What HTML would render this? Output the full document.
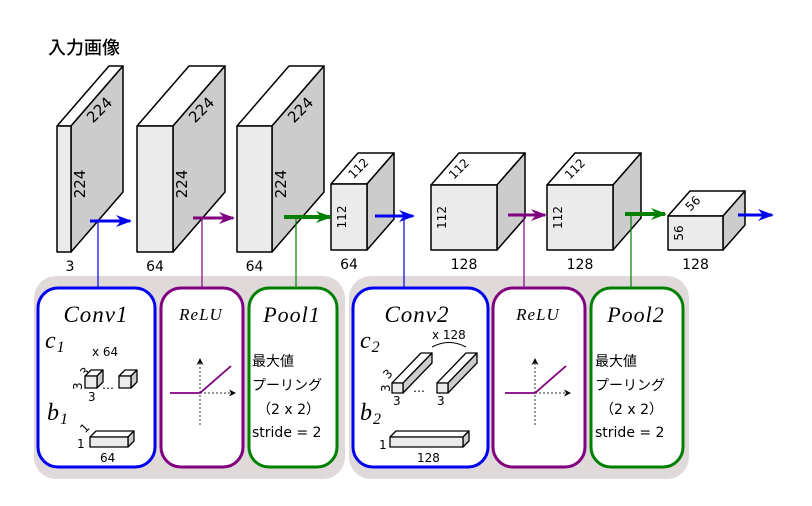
<!DOCTYPE html>
<html><head><meta charset="utf-8"><style>
html,body{margin:0;padding:0;background:#fff;}
svg{display:block;font-family:"DejaVu Sans","Liberation Sans","Noto Sans CJK JP",sans-serif;}
.it{font-family:"Liberation Serif","DejaVu Serif",serif;font-style:italic;letter-spacing:1px;}
</style></head><body>
<svg id="s" width="812" height="506" viewBox="0 0 812 506" xmlns="http://www.w3.org/2000/svg">
<defs>
<marker id="ab" markerWidth="16" markerHeight="12" refX="14" refY="6" orient="auto" markerUnits="userSpaceOnUse"><path d="M0,0 L16,6 L0,12 L5,6z" fill="#0000ee"/></marker>
<marker id="ap" markerWidth="16" markerHeight="12" refX="14" refY="6" orient="auto" markerUnits="userSpaceOnUse"><path d="M0,0 L16,6 L0,12 L5,6z" fill="#800080"/></marker>
<marker id="ag" markerWidth="16" markerHeight="12" refX="14" refY="6" orient="auto" markerUnits="userSpaceOnUse"><path d="M0,0 L16,6 L0,12 L5,6z" fill="#008000"/></marker>
<marker id="ak" markerWidth="7" markerHeight="7" refX="6" refY="3.5" orient="auto" markerUnits="userSpaceOnUse"><path d="M0,0 L7,3.5 L0,7 L2,3.5z" fill="#000"/></marker>
</defs>
<text x="48" y="54" font-size="18" font-family="Noto Sans CJK JP, sans-serif" font-weight="500">入力画像</text>
<g id="panels">
<rect x="34" y="276" width="311" height="203" rx="22" fill="#e0d9d9"/>
<rect x="349" y="276" width="340" height="203" rx="22" fill="#e0d9d9"/>
</g>
<g id="cubes"></g>
<g id="links"></g>
<g fill="#fff" stroke-width="3">
<rect x="38" y="288" width="117" height="179" rx="20" stroke="#0000ee"/>
<rect x="161" y="288" width="82" height="179" rx="20" stroke="#800080"/>
<rect x="249" y="288" width="88" height="179" rx="20" stroke="#008000"/>
<rect x="353" y="288" width="135" height="179" rx="20" stroke="#0000ee"/>
<rect x="493" y="288" width="92" height="179" rx="20" stroke="#800080"/>
<rect x="591" y="288" width="92" height="179" rx="20" stroke="#008000"/>
</g>
<g class="it" font-size="23" text-anchor="middle">
<text x="96" y="322">Conv1</text>
<text x="417" y="322">Conv2</text>
<text x="292" y="322" font-size="22">Pool1</text>
<text x="636" y="322" font-size="22">Pool2</text>
<text x="201" y="320" font-size="17">ReLU</text>
<text x="538" y="320" font-size="17">ReLU</text>
</g>
<g class="it" font-size="24">
<text x="45" y="348">c<tspan font-size="16" dy="4">1</tspan></text>
<text x="47" y="420">b<tspan font-size="16" dy="4">1</tspan></text>
<text x="360" y="348">c<tspan font-size="16" dy="4">2</tspan></text>
<text x="360" y="420">b<tspan font-size="16" dy="4">2</tspan></text>
</g>
<g font-size="12" id="convsmall">
<text x="92" y="356">x 64</text>
<text x="432" y="339">x 128</text>
<path d="M432,347 Q449,338 466,347" fill="none" stroke="#000"/>
<text x="102" y="389">…</text>
<text x="413" y="392">…</text>
<text x="88" y="401">3</text>
<text x="82" y="390" transform="rotate(-90 82 390)">3</text>
<text x="81" y="376" transform="rotate(-45 85 372)">3</text>
<text x="393" y="405">3</text>
<text x="437" y="405">3</text>
<text x="390" y="392" transform="rotate(-90 390 392)">3</text>
<text x="384" y="378" transform="rotate(-45 388 374)">3</text>
<text x="77" y="448">1</text>
<text x="81" y="432" transform="rotate(-45 85 428)">1</text>
<text x="100" y="462">64</text>
<text x="379" y="449">1</text>
<text x="417" y="462">128</text>
</g>
<g font-size="14">
<text x="252" y="366">最大値</text>
<text x="252" y="390">プーリング</text>
<text x="257" y="414">（2 x 2）</text>
<text x="252" y="437">stride = 2</text>
<text x="595" y="366">最大値</text>
<text x="595" y="390">プーリング</text>
<text x="600" y="414">（2 x 2）</text>
<text x="595" y="437">stride = 2</text>
</g>
<g id="relu"></g>
</svg>
<script>
const NS="http://www.w3.org/2000/svg";
const S=document.getElementById('s');
function el(t,a,p){const e=document.createElementNS(NS,t);for(const k in a)e.setAttribute(k,a[k]);(p||S).appendChild(e);return e;}
function cuboid(x,y,w,h,dx,dy,g,name,sw){
  const grp=el('g',{stroke:'#000','stroke-width':sw||1.5,'stroke-linejoin':'round'},g);
  
  
  el('polygon',{points:`${x},${y} ${x+dx},${y+dy} ${x+w+dx},${y+dy} ${x+w},${y}`,fill:'#fff'},grp);
  el('polygon',{points:`${x+w},${y} ${x+w+dx},${y+dy} ${x+w+dx},${y+h+dy} ${x+w},${y+h}`,fill:'#cccccc'},grp);
  el('rect',{x:x,y:y,width:w,height:h,fill:'#ebebeb'},grp);
}
function txt(x,y,s,size,rot,g,name){
  const t=el('text',{x:x,y:y,'font-size':size,'text-anchor':'middle','dominant-baseline':'central',transform:rot?`rotate(${rot} ${x} ${y})`:''},g);
  t.textContent=s;
  
  
}
const cg=document.getElementById('cubes');
const fm=[[57,126,14,126,52,-60,'3','224'],[137,126,36,126,52,-60,'64','224'],[237,126,35,126,52,-60,'64','224'],
[331,184,36,66,27,-31,'64','112'],[431,185,66,65,28,-32,'128','112'],[547,185,66,65,28,-32,'128','112'],[668,216,55,34,22,-25,'128','56']];
fm.forEach((f,i)=>{
  const [x,y,w,h,dx,dy,c,s]=f;
  cuboid(x,y,w,h,dx,dy,cg,'feature-map-'+(i+1));
  const big=h>100;
  txt(x+w/2+(i==0?6:0),y+h+15,c,14,0,cg,'channels-label-'+(i+1));
  if(big) txt(x+w+dx*0.55,y+dy*0.55+17,s,15,-45,cg,'depth-label-'+(i+1));
  else txt(x+dx/2+14,y+dy/2,s,12,-45,cg,'depth-label-'+(i+1));
  txt(big?x+w+9:x+11,big?y+h*0.46:y+h/2,s,big?15:12,-90,cg,'height-label-'+(i+1));
});
const lg=document.getElementById('links');
const ar=[[90,130,221,'#0000ee','ab',98],[193,233,218,'#800080','ap',202],[284,330,217,'#008000','ag',296],
[375,413,216,'#0000ee','ab',404],[508,545,215,'#800080','ap',524],[625,665,214,'#008000','ag',631],[738,772,215,'#0000ee','ab',null]];
ar.forEach((a,i)=>{
  if(a[5]!==null){const l=el('line',{x1:a[5],y1:a[2],x2:a[5],y2:288,stroke:a[3],'stroke-width':1.2},lg);
  
  }
  const l2=el('line',{x1:a[0],y1:a[2],x2:a[1],y2:a[2],stroke:a[3],'stroke-width':i%3==2?4:3,'marker-end':`url(#${a[4]})`},lg);
  
  
});
const sg=document.getElementById('convsmall');
cuboid(85,376,12,12,6,-6,sg,'kernel-cube-1',1.3);
cuboid(119,376,12,12,6,-6,sg,'kernel-cube-2',1.3);
cuboid(90,437,38,10,6,-6,sg,'bias-bar-1',1.3);
cuboid(392,383,11,10,29,-30,sg,'kernel-bar-1',1.3);
cuboid(437,383,11,10,29,-30,sg,'kernel-bar-2',1.3);
cuboid(390,437,73,10,6,-6,sg,'bias-bar-2',1.3);
const rg=document.getElementById('relu');
[[200,393,170],[535,393,505]].forEach((r,i)=>{
  const [cx,cy,x0]=r;
  const a=el('line',{x1:cx,y1:cy+32,x2:cx,y2:cy-34,stroke:'#333','stroke-dasharray':'2,2','marker-end':'url(#ak)'},rg);
  
  
  const b=el('line',{x1:cx,y1:cy,x2:cx+35,y2:cy,stroke:'#333','stroke-dasharray':'2,2','marker-end':'url(#ak)'},rg);
  
  
  const p=el('polyline',{points:`${x0},${cy} ${cx},${cy} ${cx+31},${cy-27}`,fill:'none',stroke:'#800080','stroke-width':1.8},rg);
  
  
});
</script>
</body></html>
